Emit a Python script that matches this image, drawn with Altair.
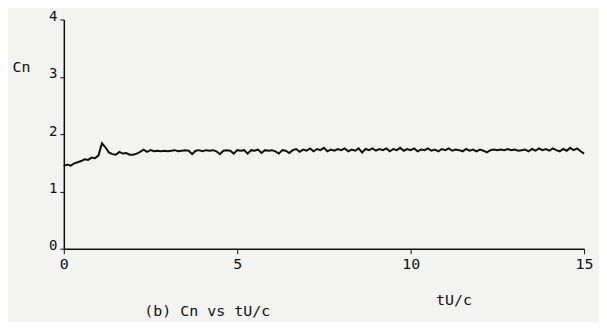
import altair as alt
import pandas as pd

t_values = [round(i * 0.1, 1) for i in range(151)]
cn_values = [
    1.44, 1.47, 1.45, 1.49, 1.51, 1.53, 1.56, 1.55, 1.59, 1.58,
    1.63, 1.84, 1.77, 1.68, 1.65, 1.64, 1.69, 1.66, 1.67, 1.64,
    1.64, 1.66, 1.69, 1.73, 1.69, 1.72, 1.70, 1.71, 1.70, 1.71,
    1.70, 1.71, 1.72, 1.70, 1.71, 1.72, 1.71, 1.65, 1.71, 1.72,
    1.70, 1.72, 1.71, 1.72, 1.70, 1.65, 1.71, 1.72, 1.71, 1.66,
    1.72, 1.71, 1.72, 1.66, 1.72, 1.71, 1.73, 1.67, 1.72, 1.71,
    1.72, 1.70, 1.66, 1.72, 1.71, 1.67, 1.72, 1.74, 1.69, 1.73,
    1.71, 1.75, 1.70, 1.74, 1.72, 1.76, 1.70, 1.73, 1.71, 1.74,
    1.72, 1.75, 1.70, 1.73, 1.71, 1.75, 1.68, 1.74, 1.72, 1.75,
    1.71, 1.74, 1.72, 1.75, 1.70, 1.74, 1.72, 1.76, 1.71, 1.74,
    1.72, 1.75, 1.70, 1.73, 1.72, 1.75, 1.71, 1.73, 1.70, 1.74,
    1.72, 1.75, 1.71, 1.73, 1.72, 1.70, 1.74, 1.71, 1.73, 1.70,
    1.73, 1.71, 1.68, 1.72, 1.73, 1.72, 1.73, 1.72, 1.74, 1.72,
    1.73, 1.71, 1.72, 1.73, 1.70, 1.74, 1.71, 1.75, 1.72, 1.74,
    1.71, 1.75, 1.72, 1.70, 1.74, 1.71, 1.76, 1.72, 1.75, 1.70,
    1.66,
]
x_ticks = [0, 5, 10, 15]
y_ticks = [0, 1, 2, 3, 4]
x_title = "tU/c"
y_title = "Cn"
caption = "(b) Cn vs tU/c"

df = pd.DataFrame({"t": t_values, "cn": cn_values})

FONT = "DejaVu Sans Mono"
INK = "#111111"

line = alt.Chart(df).mark_line(color=INK, strokeWidth=2).encode(
    x=alt.X(
        "t:Q",
        scale=alt.Scale(domain=[0, 15], nice=False, zero=False),
        axis=alt.Axis(
            values=x_ticks,
            title=x_title,
            titleX=391,
            titleY=51,
            titleAlign="center",
            titleBaseline="middle",
            titleFont=FONT,
            titleFontSize=15,
            titleFontWeight="normal",
            titleColor=INK,
            labelFont=FONT,
            labelFontSize=15,
            labelColor=INK,
            labelPadding=3,
            tickSize=5,
            tickColor=INK,
            domainColor=INK,
            domainWidth=1.5,
            grid=False,
            labelFlush=False,
        ),
    ),
    y=alt.Y(
        "cn:Q",
        scale=alt.Scale(domain=[0, 4], nice=False),
        axis=alt.Axis(
            values=y_ticks,
            title=y_title,
            titleAngle=0,
            titleX=-43,
            titleY=47,
            titleAlign="center",
            titleBaseline="middle",
            titleFont=FONT,
            titleFontSize=15,
            titleFontWeight="normal",
            titleColor=INK,
            labelFont=FONT,
            labelFontSize=14,
            labelColor=INK,
            labelPadding=3,
            labelOffset=-3,
            labelBaseline="middle",
            tickSize=4,
            tickColor=INK,
            domainColor=INK,
            domainWidth=1.5,
            grid=False,
            labelFlush=False,
        ),
    ),
)

cap = alt.Chart(pd.DataFrame({"txt": [caption]})).mark_text(
    font=FONT, fontSize=15, color=INK, align="center", baseline="middle"
).encode(x=alt.value(144), y=alt.value(293), text="txt:N")

chart = (
    alt.layer(line, cap)
    .properties(
        width=522,
        height=230,
        autosize=alt.AutoSizeParams(type="none"),
        padding={"left": 56, "top": 11, "right": 15, "bottom": 73},
        background="#f3f3f1",
    )
    .configure_view(stroke=None)
)

chart.save("out.html", embed_options={"renderer": "svg", "actions": False})
